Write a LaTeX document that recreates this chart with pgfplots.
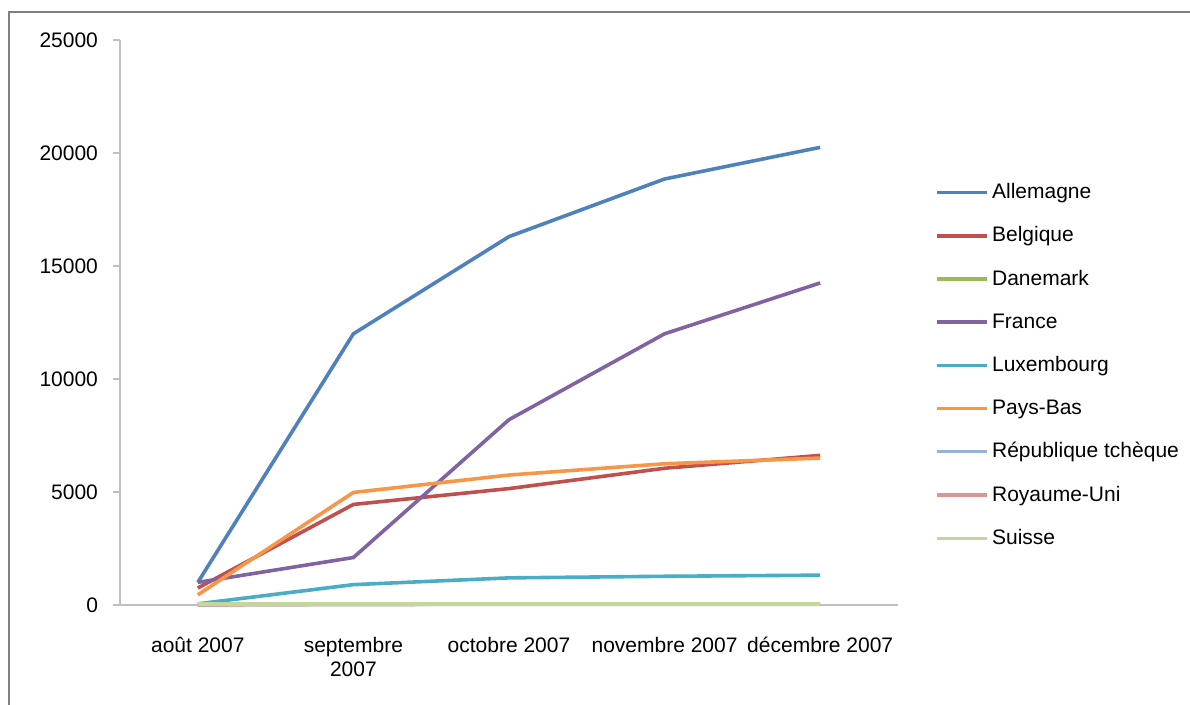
\documentclass[border=0pt]{standalone}
\usepackage{pgfplots}
\pgfplotsset{compat=1.18}
\usepackage{fontspec}
\setmainfont{Liberation Sans}
\definecolor{cAll}{HTML}{4F81BD}
\definecolor{cBel}{HTML}{C0504D}
\definecolor{cDan}{HTML}{9BBB59}
\definecolor{cFra}{HTML}{8064A2}
\definecolor{cLux}{HTML}{4BACC6}
\definecolor{cPay}{HTML}{F79646}
\definecolor{cRep}{HTML}{95B3D7}
\definecolor{cRoy}{HTML}{D99694}
\definecolor{cSui}{HTML}{C3D69B}
\definecolor{axgray}{HTML}{BFBFBF}
\begin{document}
\begin{tikzpicture}
\path[use as bounding box] (0,0) rectangle (595pt,352.5pt);
\draw[color=gray, line width=1.2pt] (4.5pt,0) -- (4.5pt,346.5pt) -- (595pt,346.5pt);
\begin{axis}[
  at={(60pt,50pt)}, anchor=south west,
  scale only axis, width=389pt, height=282.5pt,
  xmin=-0.5, xmax=4.5, ymin=0, ymax=25000,
  axis x line=bottom, axis y line=left,
  axis line style={draw=axgray, line width=0.8pt, -},
  xtick={0,1,2,3,4},
  xticklabels={ao\^ut 2007, {septembre\\2007}, octobre 2007, novembre 2007, d\'ecembre 2007},
  xticklabel style={align=center, yshift=-9pt, font=\fontsize{10.5}{12}\selectfont},
  major x tick style={draw=none},
  extra x ticks={-0.5,0.5,1.5,2.5,3.5,4.5},
  extra x tick labels={},
  extra x tick style={tick align=outside, major tick length=4pt, tick style={draw=axgray, line width=0.8pt}},
  ytick={0,5000,10000,15000,20000,25000},
  yticklabel style={font=\fontsize{10.5}{12}\selectfont, xshift=-4pt},
  /pgf/number format/assume math mode=true,
  scaled y ticks=false,
  y tick label style={/pgf/number format/1000 sep={}},
  tick align=outside,
  major tick length=3.5pt,
  y tick style={draw=axgray, line width=0.8pt},
  every axis plot/.append style={line width=1.8pt, mark=none},
  legend style={at={(1.04,0.424)}, anchor=west, draw=none, fill=none,
    font=\fontsize{10.5}{12}\selectfont, row sep=8.6pt,
    nodes={inner xsep=1.5pt}},
  legend cell align=left,
  legend image code/.code={\draw[#1] (0pt,0pt) -- (25pt,0pt);},
  clip=false,
]
\addplot[color=cAll] coordinates {(0,1000) (1,12000) (2,16300) (3,18850) (4,20250)};
\addplot[color=cBel] coordinates {(0,750) (1,4450) (2,5150) (3,6050) (4,6620)};
\addplot[color=cDan] coordinates {(0,20) (1,40) (2,50) (3,50) (4,50)};
\addplot[color=cFra] coordinates {(0,1000) (1,2100) (2,8200) (3,12000) (4,14250)};
\addplot[color=cLux] coordinates {(0,50) (1,900) (2,1200) (3,1270) (4,1320)};
\addplot[color=cPay] coordinates {(0,450) (1,4980) (2,5750) (3,6250) (4,6500)};
\addplot[color=cRep] coordinates {(0,10) (1,30) (2,40) (3,40) (4,40)};
\addplot[color=cRoy] coordinates {(0,10) (1,20) (2,30) (3,30) (4,30)};
\addplot[color=cSui] coordinates {(0,40) (1,40) (2,40) (3,40) (4,40)};
\legend{Allemagne, Belgique, Danemark, France, Luxembourg, Pays-Bas, R\'epublique tch\`eque, Royaume-Uni, Suisse}
\end{axis}
\end{tikzpicture}
\end{document}
